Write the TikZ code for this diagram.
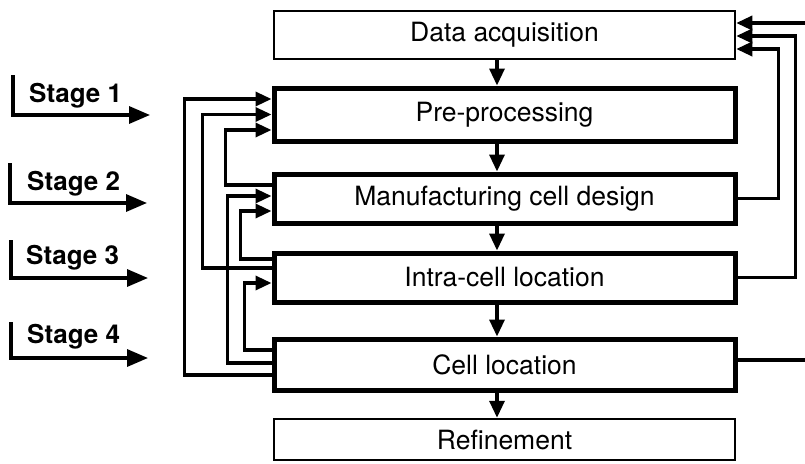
\documentclass[tikz,border=0pt]{standalone}
\usepackage{fontspec}
\setmainfont{TeX Gyre Heros}
\usepackage{tikz}
\usetikzlibrary{arrows.meta, positioning}

\begin{document}
\begin{tikzpicture}[x=1pt, y=-1pt,
        block/.style={rectangle, draw, line width=5pt, minimum width=461pt, inner sep=0pt, font=\fontsize{26.5}{30}\selectfont},
        thinblock/.style={block, line width=2.5pt},
        flow/.style={line width=3.3pt, -{Triangle[length=17pt, width=15pt]}},
        feed/.style={line width=3.3pt, -{Triangle[length=16pt, width=14pt]}},
        stagelabel/.style={anchor=base west, inner sep=0pt, font=\fontsize{26}{30}\selectfont\bfseries},
        stagearrow/.style={line width=3.3pt, -{Triangle[length=21pt, width=17pt]}}]
        \useasboundingbox (0,0) rectangle (805,463);
        \clip (0,0) rectangle (805,463);

        % the six steps
        \node[thinblock, minimum height=48pt] (data) at (504.5, 35) {Data acquisition};
        \node[block, minimum height=53pt] (pre) at (504.5, 114.5) {Pre-processing};
        \node[block, minimum height=49pt] (design) at (504.5, 198.5) {Manufacturing cell design};
        \node[block, minimum height=49pt] (intra) at (504.5, 277.5) {Intra-cell location};
        \node[block, minimum height=51pt] (loc) at (504.5, 364.5) {Cell location};
        \node[thinblock, minimum height=41pt] (refine) at (504.5, 439.5) {Refinement};

        \draw[flow] ([xshift=-7.5pt]data.south) to ([xshift=-7.5pt]pre.north);
        \draw[flow] ([xshift=-7.5pt]pre.south) to ([xshift=-7.5pt]design.north);
        \draw[flow] ([xshift=-7.5pt]design.south) to ([xshift=-7.5pt]intra.north);
        \draw[flow] ([xshift=-7.5pt]intra.south) to ([xshift=-7.5pt]loc.north);
        \draw[flow] ([xshift=-7.5pt]loc.south) to ([xshift=-7.5pt]refine.north);

        % feedback on the left
        \draw[feed] ([yshift=-10.5pt]loc.west) -- ++(-87, 0) |- ([yshift=15.5pt]pre.west);
        \draw[feed] ([yshift=9.5pt]intra.west) -- ++(-69, 0) |- (pre.west);
        \draw[feed] ([yshift=13.5pt]design.west) -- ++(-46, 0) |- ([yshift=-15.5pt]pre.west);
        \draw[feed] ([yshift=1.5pt]loc.west) -- ++(-44, 0) |- ([yshift=2.5pt]design.west);
        \draw[feed] ([yshift=18.5pt]intra.west) -- ++(-31, 0) |- ([yshift=-12.5pt]design.west);
        \draw[feed] ([yshift=14.5pt]loc.west) -- ++(-27, 0) |- ([yshift=-5.5pt]intra.west);

        % feedback on the right
        \draw[feed] (design.east) -- ++(41, 0) |- ([yshift=-14pt]data.east);
        \draw[feed] (intra.east) -- ++(58, 0) |- ([yshift=-1pt]data.east);
        \draw[feed] ([yshift=4.5pt]loc.east) -- ++(80, 0) |- ([yshift=12pt]data.east);

        % stages
        \node[stagelabel] (st1) at (29, 102) {Stage 1};
        \node[stagelabel] (st2) at (27, 190) {Stage 2};
        \node[stagelabel] (st3) at (26, 264) {Stage 3};
        \node[stagelabel] (st4) at (27, 343) {Stage 4};
        \coordinate (st1top) at (13, 75);
        \coordinate (st1tip) at (150, 115);
        \coordinate (st2top) at (10, 163);
        \coordinate (st2tip) at (147, 203);
        \coordinate (st3top) at (11, 240);
        \coordinate (st3tip) at (148, 278);
        \coordinate (st4top) at (11, 322);
        \coordinate (st4tip) at (148, 358);
        \draw[stagearrow] (st1top) |- (st1tip);
        \draw[stagearrow] (st2top) |- (st2tip);
        \draw[stagearrow] (st3top) |- (st3tip);
        \draw[stagearrow] (st4top) |- (st4tip);
\end{tikzpicture}
\end{document}
